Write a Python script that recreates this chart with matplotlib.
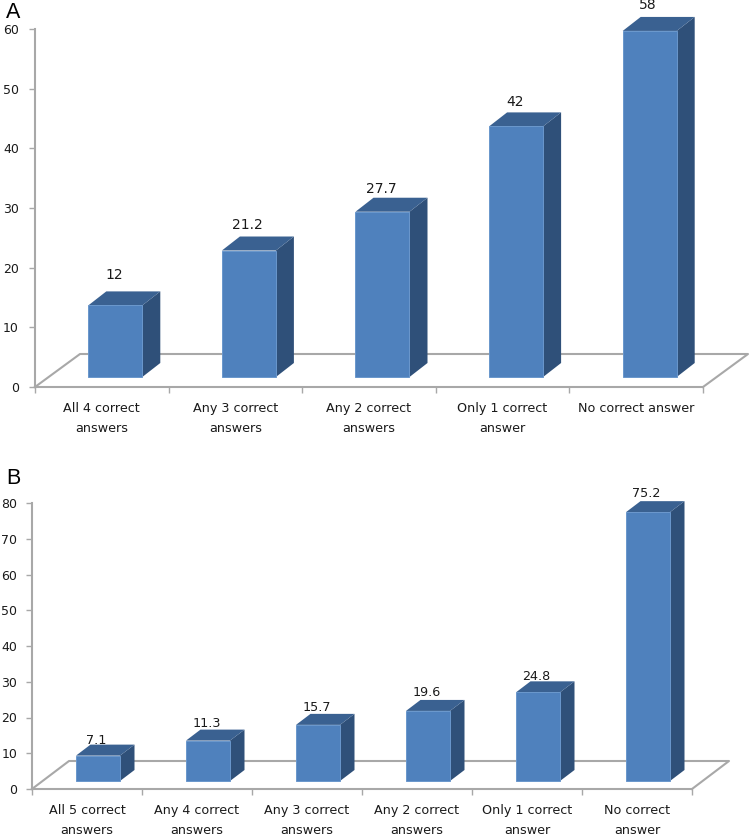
import matplotlib
matplotlib.use('Agg')
import matplotlib.pyplot as plt

# panel A
labels_a = ['All 4 correct\nanswers', 'Any 3 correct\nanswers', 'Any 2 correct\nanswers',
            'Only 1 correct\nanswer', 'No correct answer']
values_a = [12, 21.2, 27.7, 42, 58]
ticks_a = [0, 10, 20, 30, 40, 50, 60]
# value label gap above the bar, pixels
gaps_a = [16, 12, 9, 10, 12]

# panel B
labels_b = ['All 5 correct\nanswers', 'Any 4 correct\nanswers', 'Any 3 correct\nanswers',
            'Any 2 correct\nanswers', 'Only 1 correct\nanswer', 'No correct\nanswer']
values_b = [7.1, 11.3, 15.7, 19.6, 24.8, 75.2]
ticks_b = [0, 10, 20, 30, 40, 50, 60, 70, 80]
gaps_b = [4, 6, 6, 7, 5, 8]

W, H = 750, 834
FRONT = '#4f81bd'
EDGE = '#6a97cc'
TOP = '#3a6191'
SIDE = '#2f5079'
GREY = '#a8a8a8'
TXT = '#1a1a1a'

fig = plt.figure(figsize=(W / 100, H / 100), dpi=100)


def panel(values, labels, ticks, gaps, x0, x1, y0, ytop, bar_w, floor, inset, cube,
          val_size, ypad, name, name_y):
    n = len(values)
    ax = fig.add_axes([x0 / W, 1 - y0 / H, (x1 - x0) / W, (y0 - ytop) / H])
    ax.set_xlim(-0.5, n - 0.5)
    ax.set_ylim(0, ticks[-1])
    sx = (x1 - x0) / n             # pixels per category
    sy = (y0 - ytop) / ticks[-1]   # pixels per unit

    # floor of the 3d box
    fx, fy = floor[0] / sx, floor[1] / sy
    ax.plot([-0.5, -0.5 + fx, n - 0.5 + fx, n - 0.5], [0, fy, fy, 0],
            color=GREY, lw=1.5, clip_on=False, zorder=1)

    ix, iy = inset[0] / sx, inset[1] / sy
    cx, cy = cube[0] / sx, cube[1] / sy
    w = bar_w / sx
    for i, v in enumerate(values):
        left = i - w / 2 + ix
        right = i + w / 2 + ix
        ax.fill([right, right + cx, right + cx, right],
                [iy, iy + cy, iy + v + cy, iy + v],
                color=SIDE, lw=0, clip_on=False, zorder=2)
        ax.fill([left, left + cx, right + cx, right],
                [iy + v, iy + v + cy, iy + v + cy, iy + v],
                color=TOP, lw=0, clip_on=False, zorder=2)
        ax.bar(i + ix, v, width=w, bottom=iy, color=FRONT, edgecolor=EDGE, linewidth=0.7,
               clip_on=False, zorder=3)
        ax.annotate(str(v), (i + ix - 1.5 / sx, iy + v + cy), xytext=(0, gaps[i] * 0.72),
                    textcoords='offset points', ha='center', va='center',
                    fontsize=val_size, color=TXT, annotation_clip=False)

    for s in ['top', 'right']:
        ax.spines[s].set_visible(False)
    for s in ['left', 'bottom']:
        ax.spines[s].set_color(GREY)
        ax.spines[s].set_linewidth(1.5)
    ax.patch.set_alpha(0)

    ax.set_yticks(ticks)
    ax.tick_params(axis='y', length=4, width=1, color=GREY, labelsize=9, labelcolor=TXT, pad=ypad)
    # ticks between the categories, labels at the centres
    ax.set_xticks([i - 0.5 for i in range(n + 1)])
    ax.set_xticklabels([])
    ax.tick_params(axis='x', which='major', length=4, width=1, color=GREY)
    ax.set_xticks(range(n), labels, minor=True, fontsize=9.2, color=TXT, linespacing=1.75)
    ax.tick_params(axis='x', which='minor', length=0, pad=10.5)

    fig.text(13 / W, 1 - name_y / H, name, family='Liberation Sans', fontsize=15.5,
             ha='center', va='center', color='black')


panel(values_a, labels_a, ticks_a, gaps_a, 35, 703, 387, 29, 54, (45, 33), (13.5, 10), (18, 14),
      10, 7.5, 'A', 13)
panel(values_b, labels_b, ticks_b, gaps_b, 32, 692, 789, 503, 44, (37, 28), (11, 8), (14.5, 11),
      9.2, 6.5, 'B', 479)

fig.savefig('out.png', dpi=100)
